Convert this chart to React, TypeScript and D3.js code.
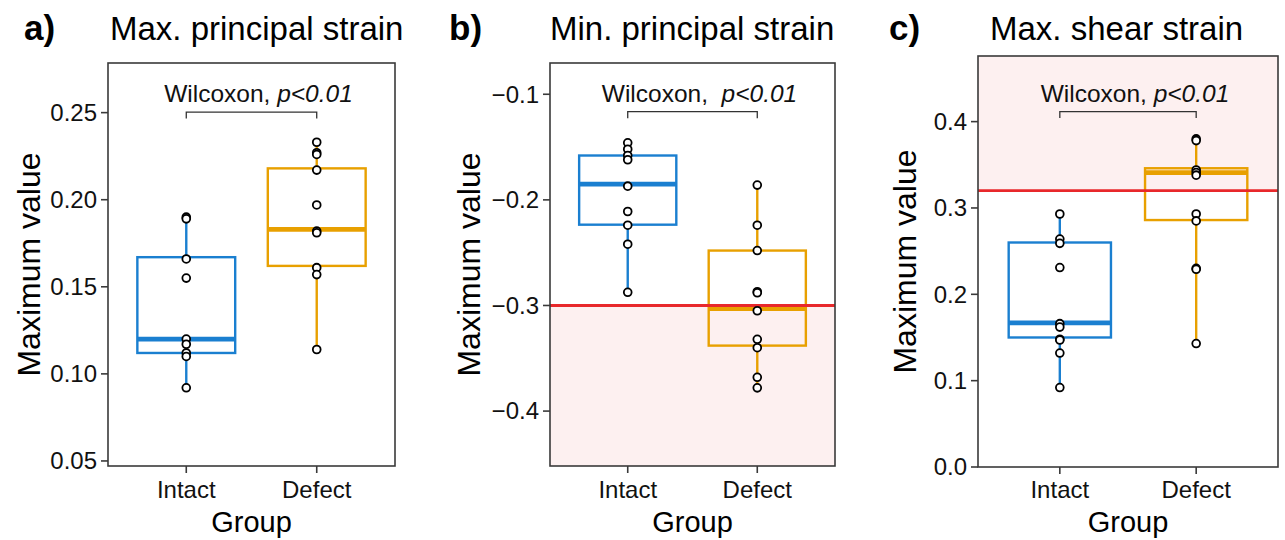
import React from "react";
import * as d3 from "d3";

// ---------- data ----------
const groups = ["Intact", "Defect"];

// raw points per panel
const maxPrincipalIntact = [0.190, 0.189, 0.166, 0.155, 0.120, 0.117, 0.112, 0.110, 0.092];
const maxPrincipalDefect = [0.233, 0.227, 0.226, 0.217, 0.197, 0.182, 0.181, 0.161, 0.157, 0.114];
const minPrincipalIntact = [-0.146, -0.152, -0.158, -0.162, -0.187, -0.211, -0.224, -0.242, -0.2875];
const minPrincipalDefect = [-0.186, -0.224, -0.248, -0.287, -0.288, -0.305, -0.332, -0.340, -0.368, -0.378];
const maxShearIntact = [0.293, 0.264, 0.259, 0.231, 0.166, 0.162, 0.148, 0.147, 0.132, 0.092];
const maxShearDefect = [0.380, 0.378, 0.344, 0.341, 0.338, 0.293, 0.285, 0.230, 0.229, 0.143];

// box statistics [lower whisker, q1, median, q3, upper whisker]
const maxPrincipalBoxIntact = [0.092, 0.112, 0.120, 0.167, 0.190];
const maxPrincipalBoxDefect = [0.114, 0.162, 0.183, 0.218, 0.233];
const minPrincipalBoxIntact = [-0.2875, -0.2235, -0.185, -0.158, -0.146];
const minPrincipalBoxDefect = [-0.378, -0.338, -0.303, -0.248, -0.186];
const maxShearBoxIntact = [0.092, 0.150, 0.167, 0.260, 0.293];
const maxShearBoxDefect = [0.143, 0.286, 0.341, 0.346, 0.380];

// y ticks
const maxPrincipalTicks = [0.05, 0.10, 0.15, 0.20, 0.25];
const minPrincipalTicks = [-0.4, -0.3, -0.2, -0.1];
const maxShearTicks = [0.0, 0.1, 0.2, 0.3, 0.4];

// thresholds
const minPrincipalThreshold = -0.3;
const maxShearThreshold = 0.32;

const pLabel = "p<0.01";

// ---------- styling ----------
const FONT = "'Liberation Sans', Arial, Helvetica, sans-serif";
const COLORS = ["#1a7fd0", "#e8a000"];
const RED = "#e8282b";
const PINK = "#fdf0f0";
const FRAME = "#3a3a3a";

type Panel = {
  letter: string;
  title: string;
  letterX: number;
  titleX: number;
  left: number;
  right: number;
  top: number;
  bottom: number;
  yDomain: [number, number];
  ticks: number[];
  fmt: string;
  points: number[][];
  boxes: number[][];
  ylabX: number;
  bracketY: number;
  wilcoxText: string;
  threshold?: number;
  shadeBelow?: boolean;
};

const panels: Panel[] = [
  {
    letter: "a)", title: "Max. principal strain", letterX: 24, titleX: 110,
    left: 108, right: 395, top: 63, bottom: 466,
    yDomain: [0.0471, 0.2785], ticks: maxPrincipalTicks, fmt: ".2f",
    points: [maxPrincipalIntact, maxPrincipalDefect],
    boxes: [maxPrincipalBoxIntact, maxPrincipalBoxDefect],
    ylabX: 29, bracketY: 0.2503, wilcoxText: "Wilcoxon, ",
  },
  {
    letter: "b)", title: "Min. principal strain", letterX: 449, titleX: 550,
    left: 550, right: 835, top: 63, bottom: 466,
    yDomain: [-0.452, -0.0704], ticks: minPrincipalTicks, fmt: ".1f",
    points: [minPrincipalIntact, minPrincipalDefect],
    boxes: [minPrincipalBoxIntact, minPrincipalBoxDefect],
    ylabX: 469, bracketY: -0.1165, wilcoxText: "Wilcoxon,  ",
    threshold: minPrincipalThreshold, shadeBelow: true,
  },
  {
    letter: "c)", title: "Max. shear strain", letterX: 889, titleX: 990,
    left: 978, right: 1278, top: 56, bottom: 467,
    yDomain: [0, 0.476], ticks: maxShearTicks, fmt: ".1f",
    points: [maxShearIntact, maxShearDefect],
    boxes: [maxShearBoxIntact, maxShearBoxDefect],
    ylabX: 905, bracketY: 0.4116, wilcoxText: "Wilcoxon, ",
    threshold: maxShearThreshold, shadeBelow: false,
  },
];

function PanelView({ p }: { p: Panel }) {
  const x = d3.scaleLinear().domain([0.4, 2.6]).range([p.left, p.right]);
  const y = d3.scaleLinear().domain(p.yDomain).range([p.bottom, p.top]);
  const fmt = d3.format(p.fmt);
  const bw = x(1.375) - x(1);
  const midX = (p.left + p.right) / 2;
  const midY = (p.top + p.bottom) / 2;
  const by = y(p.bracketY);
  const x1 = x(1);
  const x2 = x(2);
  return (
    <g>
      {p.threshold !== undefined && (
        <rect
          x={p.left}
          width={p.right - p.left}
          y={p.shadeBelow ? y(p.threshold) : p.top}
          height={p.shadeBelow ? p.bottom - y(p.threshold) : y(p.threshold) - p.top}
          fill={PINK}
        />
      )}
      {/* boxes */}
      {p.boxes.map((b, i) => {
        const cx = x(i + 1);
        const c = COLORS[i];
        return (
          <g key={"b" + i}>
            <line x1={cx} x2={cx} y1={y(b[0])} y2={y(b[1])} stroke={c} strokeWidth={2.4} />
            <line x1={cx} x2={cx} y1={y(b[3])} y2={y(b[4])} stroke={c} strokeWidth={2.4} />
            <rect x={cx - bw} width={bw * 2} y={y(b[3])} height={y(b[1]) - y(b[3])}
              fill="none" stroke={c} strokeWidth={2.4} />
            <line x1={cx - bw} x2={cx + bw} y1={y(b[2])} y2={y(b[2])} stroke={c} strokeWidth={4.8} />
          </g>
        );
      })}
      {p.threshold !== undefined && (
        <line x1={p.left} x2={p.right} y1={y(p.threshold)} y2={y(p.threshold)} stroke={RED} strokeWidth={2.8} />
      )}
      {/* points */}
      {p.points.map((arr, i) =>
        arr.map((v, j) => (
          <circle key={"p" + i + "_" + j} cx={x(i + 1)} cy={y(v)} r={3.9}
            fill="white" stroke="black" strokeWidth={1.8} />
        ))
      )}
      {/* bracket */}
      <path d={`M${x1},${by + 6.5}V${by}H${x2}V${by + 6.5}`} fill="none" stroke="#333" strokeWidth={1.3} />
      <text x={(x1 + x2) / 2 + 7} y={by - 10} textAnchor="middle" fontSize={24.5} fontFamily={FONT} fill="#111">
        <tspan style={{ whiteSpace: "pre" }}>{p.wilcoxText}</tspan>
        <tspan fontStyle="italic">{pLabel}</tspan>
      </text>
      {/* frame */}
      <rect x={p.left} y={p.top} width={p.right - p.left} height={p.bottom - p.top}
        fill="none" stroke={FRAME} strokeWidth={1.6} />
      {/* y ticks */}
      {p.ticks.map((t) => (
        <g key={"t" + t}>
          <line x1={p.left - 7} x2={p.left} y1={y(t)} y2={y(t)} stroke={FRAME} strokeWidth={1.6} />
          <text x={p.left - 11} y={y(t)} dy="0.35em" textAnchor="end" fontSize={24} fontFamily={FONT} fill="#111">
            {fmt(t)}
          </text>
        </g>
      ))}
      {/* x ticks */}
      {groups.map((g, i) => (
        <g key={"x" + g}>
          <line x1={x(i + 1)} x2={x(i + 1)} y1={p.bottom} y2={p.bottom + 7} stroke={FRAME} strokeWidth={1.6} />
          <text x={x(i + 1)} y={498} textAnchor="middle" fontSize={24} fontFamily={FONT} fill="#111">{g}</text>
        </g>
      ))}
      <text x={midX} y={532} textAnchor="middle" fontSize={29} fontFamily={FONT} fill="#000">Group</text>
      <text transform={`translate(${p.ylabX},${midY}) rotate(-90)`} textAnchor="middle" dy="0.35em"
        fontSize={32} fontFamily={FONT} fill="#000">Maximum value</text>
      {/* titles */}
      <text x={p.letterX} y={40} fontSize={35} fontWeight="bold" fontFamily={FONT} fill="#000">{p.letter}</text>
      <text x={p.titleX} y={40} fontSize={33} fontFamily={FONT} fill="#000">{p.title}</text>
    </g>
  );
}

export default function App() {
  return (
    <svg width={1285} height={540} style={{ position: "absolute", left: 0, top: 0, background: "white" }}>
      <rect width={1285} height={540} fill="white" />
      {panels.map((p) => (
        <PanelView key={p.letter} p={p} />
      ))}
    </svg>
  );
}
